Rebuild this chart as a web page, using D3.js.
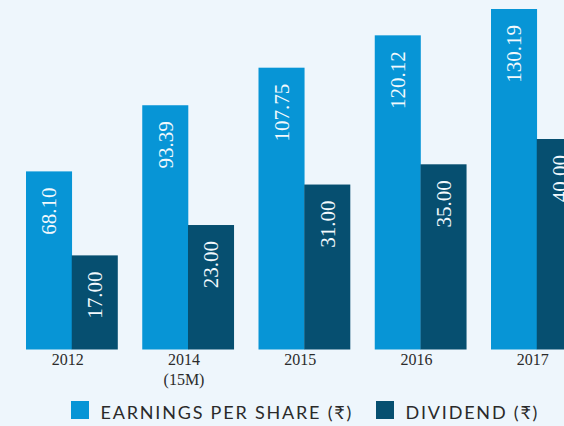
<!DOCTYPE html>
<html>
<head>
<meta charset="utf-8">
<script src="https://cdn.jsdelivr.net/npm/d3@7"></script>
<style>
  html, body { margin: 0; padding: 0; background: #eef6fc; }
  svg { display: block; }
</style>
</head>
<body>
<svg id="chart" width="564" height="426"></svg>
<script>
const years = ["2012", "2014", "2015", "2016", "2017"];
const yearSubLabels = ["", "(15M)", "", "", ""];
const eps = [68.10, 93.39, 107.75, 120.12, 130.19];
const dividend = [17.00, 23.00, 31.00, 35.00, 40.00];
const seriesNames = ["EARNINGS PER SHARE (\u20B9)", "DIVIDEND (\u20B9)"];
const seriesKeys = ["eps", "dividend"];

const colors = { eps: "#0795d6", dividend: "#064f70" };
const W = 564, H = 426;
const baseY = 349.5;

const svg = d3.select("#chart");
svg.append("rect").attr("width", W).attr("height", H).attr("fill", "#eef6fc");

const x0 = d3.scaleBand().domain(years).range([26, 582.5]).paddingInner(0.213).paddingOuter(0);
const x1 = d3.scaleBand().domain(seriesKeys).range([0, x0.bandwidth()]).padding(0);

// Each series is drawn on its own value scale, as in the original graphic
const yEps = d3.scaleLinear().domain([0, 130.19]).range([baseY, 9]);
const yDiv = d3.scaleLinear().domain([-1.6, 40]).range([baseY, 139]);

const rows = years.map((y, i) => ({ year: y, eps: eps[i], dividend: dividend[i] }));
const bars = [];
rows.forEach(r => {
  bars.push({ year: r.year, key: "eps", value: r.eps, y: yEps(r.eps) });
  bars.push({ year: r.year, key: "dividend", value: r.dividend, y: yDiv(r.dividend) });
});

const g = svg.append("g");
g.selectAll("rect.bar").data(bars).join("rect")
  .attr("class", "bar")
  .attr("x", d => x0(d.year) + x1(d.key))
  .attr("y", d => d.y)
  .attr("width", x1.bandwidth() + 0.3)
  .attr("height", d => baseY - d.y)
  .attr("fill", d => colors[d.key]);

g.selectAll("text.val").data(bars).join("text")
  .attr("class", "val")
  .attr("transform", d => `translate(${x0(d.year) + x1(d.key) + x1.bandwidth() / 2 + 7.5},${d.y + 16}) rotate(-90)`)
  .attr("text-anchor", "end")
  .attr("font-family", "'Liberation Serif', 'Times New Roman', serif")
  .attr("font-size", 21)
  .attr("fill", "#f2f9fd")
  .text(d => d.value.toFixed(2));

// x axis labels
const xl = svg.append("g");
years.forEach((y, i) => {
  const cx = x0(y) + x0.bandwidth() / 2 - 4;
  xl.append("text")
    .attr("x", cx).attr("y", 365)
    .attr("text-anchor", "middle")
    .attr("font-family", "'Liberation Serif', 'Times New Roman', serif")
    .attr("font-size", 16)
    .attr("fill", "#2b2b2b")
    .text(y);
  if (yearSubLabels[i]) {
    xl.append("text")
      .attr("x", cx).attr("y", 384.5)
      .attr("text-anchor", "middle")
      .attr("font-family", "'Liberation Serif', 'Times New Roman', serif")
      .attr("font-size", 16)
      .attr("fill", "#2b2b2b")
      .text(yearSubLabels[i]);
  }
});

// legend
const legendX = [71, 376];
const lg = svg.append("g");
seriesKeys.forEach((k, i) => {
  lg.append("rect").attr("x", legendX[i]).attr("y", 401).attr("width", 18).attr("height", 18).attr("fill", colors[k]);
  lg.append("text")
    .attr("x", legendX[i] + 29.5).attr("y", 418.5)
    .attr("font-family", "Lato, 'Noto Sans', sans-serif")
    .attr("font-size", 18)
    .attr("letter-spacing", 1.8)
    .attr("fill", "#2a2a2a")
    .text(seriesNames[i]);
});
</script>
</body>
</html>
